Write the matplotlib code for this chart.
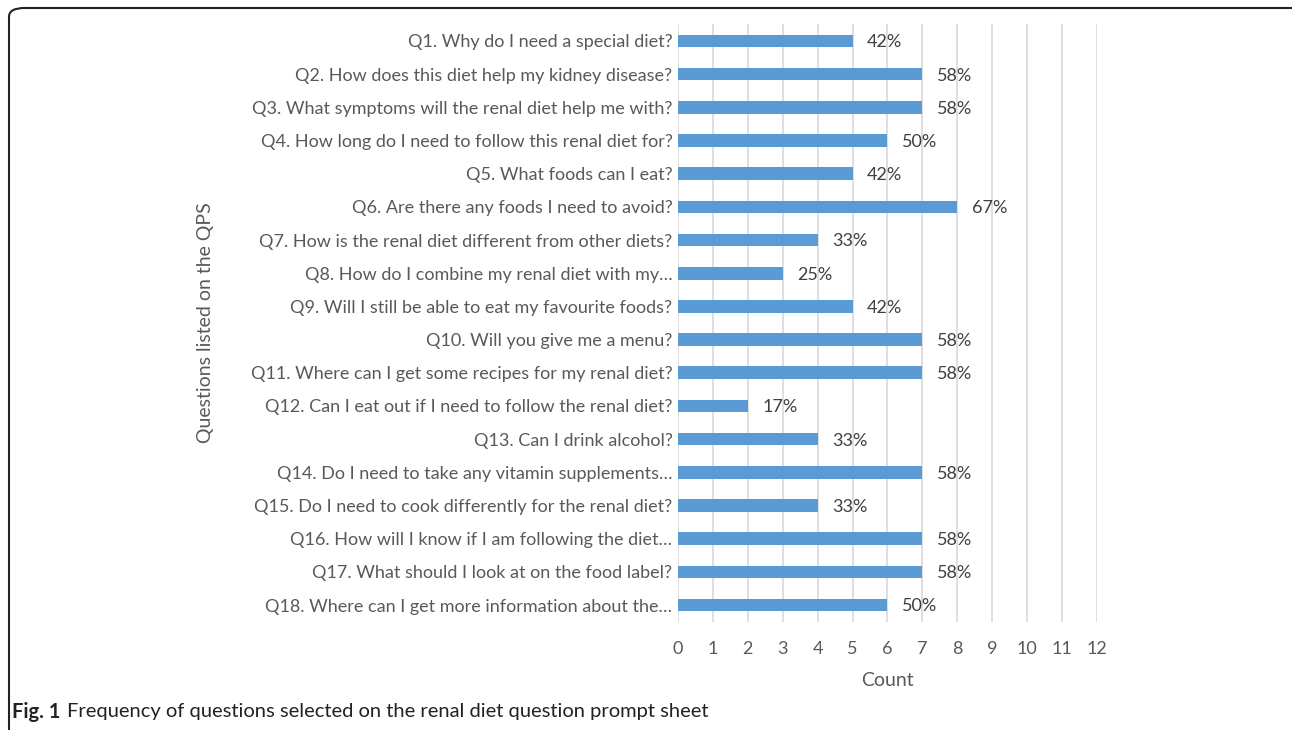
import matplotlib.pyplot as plt
from matplotlib.patches import FancyBboxPatch

plt.rcParams.update({
    "font.family": ["Lato", "DejaVu Sans"],
})

# ── data ──
questions = [
    "Q1. Why do I need a special diet?",
    "Q2. How does this diet help my kidney disease?",
    "Q3. What symptoms will the renal diet help me with?",
    "Q4. How long do I need to follow this renal diet for?",
    "Q5. What foods can I eat?",
    "Q6. Are there any foods I need to avoid?",
    "Q7. How is the renal diet different from other diets?",
    "Q8. How do I combine my renal diet with my…",
    "Q9. Will I still be able to eat my favourite foods?",
    "Q10. Will you give me a menu?",
    "Q11. Where can I get some recipes for my renal diet?",
    "Q12. Can I eat out if I need to follow the renal diet?",
    "Q13. Can I drink alcohol?",
    "Q14. Do I need to take any vitamin supplements…",
    "Q15. Do I need to cook differently for the renal diet?",
    "Q16. How will I know if I am following the diet…",
    "Q17. What should I look at on the food label?",
    "Q18. Where can I get more information about the…",
]
counts = [5, 7, 7, 6, 5, 8, 4, 3, 5, 7, 7, 2, 4, 7, 4, 7, 7, 6]
pct_labels = ["42%", "58%", "58%", "50%", "42%", "67%", "33%", "25%", "42%",
              "58%", "58%", "17%", "33%", "58%", "33%", "58%", "58%", "50%"]
x_ticks = list(range(0, 13))

text_col = "#595959"
bar_col = "#5B9BD5"

fig = plt.figure(figsize=(12.92, 7.30), dpi=100)
ax = fig.add_axes([678 / 1292, 1 - 621.6 / 730, 419 / 1292, (621.6 - 24.4) / 730])

ypos = list(range(len(questions)))
ax.barh(ypos, counts, height=0.38, color=bar_col, zorder=3)

for y, c, lab in zip(ypos, counts, pct_labels):
    ax.annotate(lab, xy=(c, y), xytext=(10.5, -1), textcoords="offset points",
                ha="left", va="center", fontsize=13, color="#404040")

ax.set_xlim(0, 12)
ax.set_ylim(len(questions) - 0.5, -0.5)
ax.set_xticks(x_ticks)
ax.set_yticks(ypos)
ax.set_yticklabels(questions)
ax.tick_params(axis="y", length=0, pad=4, labelsize=13, labelcolor=text_col)
ax.tick_params(axis="x", length=0, pad=14, labelsize=13, labelcolor=text_col)
ax.xaxis.grid(True, color="#D9D9D9", linewidth=1.2, zorder=0)
for s in ax.spines.values():
    s.set_visible(False)

ax.set_xlabel("Count", fontsize=14, color=text_col, labelpad=11)
fig.text(206 / 1292, 1 - 323 / 730, "Questions listed on the QPS", rotation=90,
         fontsize=14, color=text_col, ha="center", va="center")

# rounded frame around figure
frame = FancyBboxPatch((9 / 1292, -0.05), 1.05, 1 - 8 / 730 + 0.05,
                       boxstyle="round,pad=0,rounding_size=0.012",
                       transform=fig.transFigure, facecolor="none",
                       edgecolor="#222222", linewidth=1.5, zorder=0)
fig.patches.append(frame)

fig.text(12 / 1292, 1 - 712 / 730, "Fig. 1", fontsize=14.5, fontweight="bold",
         color="#222222", va="center", ha="left")
fig.text(67 / 1292, 1 - 712 / 730,
         "Frequency of questions selected on the renal diet question prompt sheet",
         fontsize=14.5, color="#222222", va="center", ha="left")

fig.savefig("out.png", dpi=100)
